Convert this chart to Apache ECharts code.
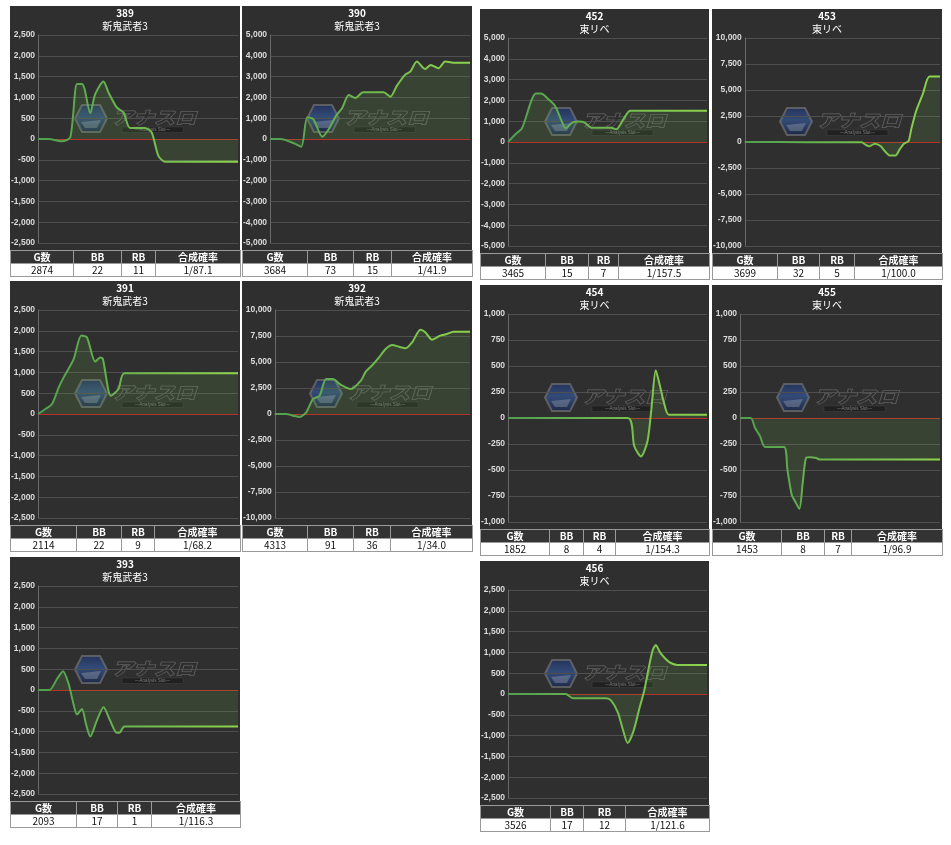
<!DOCTYPE html>
<html><head><meta charset="utf-8">
<script src="https://cdn.jsdelivr.net/npm/echarts@6/dist/echarts.min.js"></script>
<style>
html,body{margin:0;padding:0;background:#fff;width:951px;height:845px;overflow:hidden;}
.panel{position:absolute;}
.chart{position:absolute;left:0;top:0;background:#2f2f2f;}
table.info{position:absolute;left:0;border-collapse:collapse;font-family:"Noto Sans CJK JP","Noto Sans",sans-serif;font-size:10px;table-layout:fixed;}
table.info th{background:#333;color:#fff;font-weight:bold;border:1px solid #9a9a9a;height:12px;line-height:12px;padding:0;text-align:center;}
table.info td{background:#fff;color:#111;border:1px solid #9a9a9a;height:12px;line-height:12px;padding:0;text-align:center;}
</style></head>
<body>
<script>
// ---------- data ----------
const panelIds   = ['389','390','452','453','391','392','454','455','393','456'];
const panelModel = ['新鬼武者3','新鬼武者3','東リベ','東リベ','新鬼武者3','新鬼武者3','東リベ','東リベ','新鬼武者3','東リベ'];
const tableHead  = ['G数','BB','RB','合成確率'];
const gameCount  = [2874,3684,3465,3699,2114,4313,1852,1453,2093,3526];
const bbCount    = [22,73,15,32,22,91,8,8,17,17];
const rbCount    = [11,15,7,5,9,36,4,7,1,12];
const rateText   = ['1/87.1','1/41.9','1/157.5','1/100.0','1/68.2','1/34.0','1/154.3','1/96.9','1/116.3','1/121.6'];
const yMaxList   = [2500,5000,5000,10000,2500,10000,1000,1000,2500,2500];
const yStepList  = [500,1000,1000,2500,500,2500,250,250,500,500];

const g389 = [0,153,344,463,559,630,668,750,821,940,1012,1131,1227,1322,1537,1633,1728,1824,2874];
const d389 = [0,0,-55,40,1320,1320,1200,620,1080,1385,1120,760,640,265,265,160,-400,-545,-545];
const g390 = [0,196,441,575,685,796,961,1083,1206,1328,1450,1573,1714,2093,2215,2338,2491,2583,2705,2858,2962,3103,3225,3378,3684];
const d390 = [0,0,-210,-370,1040,960,110,480,1075,1490,2115,1970,2245,2245,2035,2565,3095,3240,3720,3365,3560,3400,3720,3670,3670];
const g452 = [0,127,242,484,576,702,817,932,1002,1117,1232,1335,1450,1796,1882,2026,2130,3465];
const d452 = [0,370,660,2335,2335,2060,1740,1015,660,935,980,935,690,690,610,1175,1500,1500];
const g453 = [0,1179,2213,2276,2357,2464,2571,2652,2746,2859,2934,3016,3104,3154,3248,3373,3499,3699];
const d453 = [0,-20,-30,-225,-420,-160,-390,-870,-1290,-1290,-710,-160,100,1225,3000,4615,6290,6290];
const g391 = [0,77,147,218,270,376,457,516,604,657,685,769,850,913,2114];
const d391 = [0,120,240,640,880,1320,1885,1845,1260,1360,1320,440,600,980,980];
const g392 = [0,256,402,548,694,841,987,1133,1279,1462,1681,1900,2010,2157,2303,2449,2595,2741,2888,3034,3217,3326,3473,3655,3801,3947,4313];
const d392 = [0,0,-160,-290,160,1440,1760,3365,3365,2790,2400,3205,4070,4710,5450,6250,6635,6475,6315,6890,8110,7850,7150,7530,7690,7915,7915];
const g454 = [0,1114,1175,1237,1298,1335,1375,1415,1452,1498,1852];
const d454 = [0,0,-272,-369,-224,96,458,304,144,32,32];
const g455 = [0,77,109,145,182,319,344,375,399,431,455,479,508,552,581,1453];
const d455 = [0,0,-96,-176,-279,-279,-497,-737,-801,-875,-625,-385,-378,-385,-400,-400];
const g393 = [0,118,198,261,320,362,407,459,501,546,615,685,754,824,859,904,2093];
const d393 = [0,0,265,450,145,-255,-590,-455,-815,-1120,-735,-415,-735,-1030,-1015,-880,-880];
const g456 = [0,1019,1154,1593,1740,1827,1945,2032,2120,2226,2325,2413,2483,2560,2618,2694,2794,2882,3000,3526];
const d456 = [0,0,-105,-105,-105,-160,-440,-840,-1180,-880,-360,80,560,1040,1180,1000,840,745,700,700];

const gamesList = [g389,g390,g452,g453,g391,g392,g454,g455,g393,g456];
const diffList  = [d389,d390,d452,d453,d391,d392,d454,d455,d393,d456];

// ---------- layout: panel left, top, width; table column widths ----------
const layout = [[10,6,230],[242,6,230],[480,9,229],[712,9,230],
                [10,281,230],[242,281,230],[480,285,229],[712,285,230],
                [10,557,230],[480,561,229]];
const colWidths = [[63,48,34],[65,46,38],[65,43,30],[65,42,35],
                   [66,45,33],[65,46,37],[69,34,32],[69,43,27],
                   [66,41,34],[70,33,42]];
const CHART_H = 244;

function watermark(shift){
  return [{type:'group', left:64 + shift, top:98, z:1, silent:true, children:[
    {type:'polygon', shape:{points:[[7,0],[25,0],[32,13.5],[25,27],[7,27],[0,13.5]]},
      style:{fill:new echarts.graphic.LinearGradient(0,0,0,1,[{offset:0,color:'rgba(30,50,110,0.65)'},{offset:0.45,color:'rgba(55,95,170,0.6)'},{offset:1,color:'rgba(20,35,80,0.65)'}]),
             stroke:'rgba(120,120,120,0.65)', lineWidth:2}},
    {type:'polygon', shape:{points:[[6,17],[26,15],[22,23],[10,23]]}, style:{fill:'rgba(190,195,205,0.3)'}},
    {type:'text', x:37, y:4, scaleY:0.82, style:{text:'アナスロ', font:'italic 900 21px "Noto Sans CJK JP"', fill:'rgba(45,45,45,0.6)', stroke:'rgba(125,125,125,0.7)', lineWidth:1.2}},
    {type:'rect', shape:{x:47,y:22,width:61,height:5.5}, style:{fill:'rgba(15,15,15,0.45)', stroke:'rgba(90,90,90,0.5)', lineWidth:0.5}},
    {type:'text', x:77.5, y:24.8, style:{text:'—Analysis Slot—', font:'4.5px "Liberation Sans"', fill:'rgba(160,160,160,0.7)', align:'center', verticalAlign:'middle'}}
  ]}];
}

panelIds.forEach((id, i) => {
  const [L, T, W] = layout[i];
  const panel = document.createElement('div');
  panel.className = 'panel';
  panel.style.cssText = `left:${L}px;top:${T}px;width:${W}px;height:${CHART_H+28}px;`;
  const cdiv = document.createElement('div');
  cdiv.className = 'chart';
  cdiv.style.width = W + 'px';
  cdiv.style.height = CHART_H + 'px';
  panel.appendChild(cdiv);

  const tbl = document.createElement('table');
  tbl.className = 'info';
  tbl.style.top = CHART_H + 'px';
  tbl.style.width = W + 'px';
  const cg = document.createElement('colgroup');
  const cw = colWidths[i];
  [cw[0], cw[1], cw[2], W - cw[0] - cw[1] - cw[2]].forEach(w => { const c = document.createElement('col'); c.style.width = w + 'px'; cg.appendChild(c); });
  tbl.appendChild(cg);
  const hr = document.createElement('tr');
  tableHead.forEach(h => { const th = document.createElement('th'); th.textContent = h; hr.appendChild(th); });
  const dr = document.createElement('tr');
  [gameCount[i], bbCount[i], rbCount[i], rateText[i]].forEach(v => { const td = document.createElement('td'); td.textContent = v; dr.appendChild(td); });
  tbl.appendChild(hr); tbl.appendChild(dr);
  panel.appendChild(tbl);
  document.body.appendChild(panel);

  const chart = echarts.init(cdiv, null, {renderer:'canvas'});
  const pts = gamesList[i].map((g, k) => [g, diffList[i][k]]);
  const M = yMaxList[i];
  chart.setOption({
    animation:false,
    title:{text:id, subtext:panelModel[i], left:'center', top:1, itemGap:1, padding:0,
      textStyle:{color:'#fff', fontSize:10, fontWeight:'bold', lineHeight:12, fontFamily:'"Noto Sans CJK JP", sans-serif'},
      subtextStyle:{color:'#fff', fontSize:10, lineHeight:12, fontFamily:'"Noto Sans CJK JP", sans-serif'}},
    grid:{left:1, right:2, top:29, bottom:7, containLabel:true},
    xAxis:{type:'value', min:0, max:gameCount[i],
      axisLine:{show:true, onZero:true, lineStyle:{color:'#b3322a', width:1}},
      axisTick:{show:false}, axisLabel:{show:false}, splitLine:{show:false}},
    yAxis:{type:'value', min:-M, max:M, interval:yStepList[i],
      axisLine:{show:true, lineStyle:{color:'#6a6a6a'}},
      axisTick:{show:false},
      axisLabel:{color:'#dcdcdc', fontSize:8.5, fontWeight:'bold', margin:3, fontFamily:'"Liberation Sans", sans-serif',
        formatter:v => v.toLocaleString('en-US')},
      splitLine:{lineStyle:{color:'#4f4f4f', width:1}}},
    graphic: watermark(M >= 10000 ? 3 : 0),
    series:[{type:'line', data:pts, showSymbol:false, smooth:0.25, z:3,
      lineStyle:{width:2, color:new echarts.graphic.LinearGradient(0,0,1,0,[{offset:0,color:'#4f9e50'},{offset:1,color:'#8fd44d'}])},
      areaStyle:{color:'rgba(110,180,80,0.22)'}}]
  });
});
</script>
</body></html>
